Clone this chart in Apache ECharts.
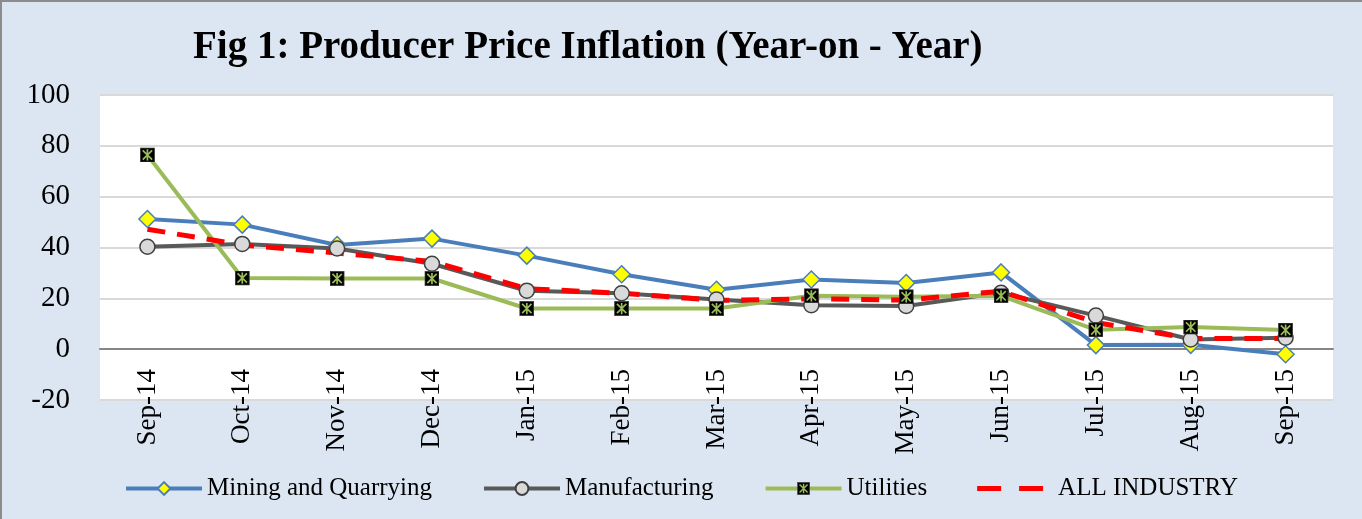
<!DOCTYPE html>
<html lang="en">
<head>
  <meta charset="UTF-8">
  <title>Producer Price Inflation</title>
  <script src="https://cdn.jsdelivr.net/npm/echarts@6/dist/echarts.min.js"></script>
  <style>
    html, body { margin: 0; padding: 0; background: #dce6f2; }
    #main { position: absolute; left: 0; top: 0; width: 1362px; height: 519px; }
  </style>
</head>
<body>
  <div id="main"></div>
  <script>
    var months = ['Sep-14', 'Oct-14', 'Nov-14', 'Dec-14', 'Jan-15', 'Feb-15', 'Mar-15',
      'Apr-15', 'May-15', 'Jun-15', 'Jul-15', 'Aug-15', 'Sep-15']
    var mining = [51.2, 49, 41, 43.5, 36.8, 29.5, 23.4, 27.4, 26, 30.2, 1.6, 1.7, -2]
    var manufacturing = [40.3, 41.4, 39.6, 33.6, 23, 22, 19.5, 17.3, 17, 22.2, 13.2, 3.8, 4.5]
    var utilities = [76.4, 28, 27.8, 27.8, 16, 16, 16, 21, 20.6, 21, 7.6, 8.7, 7.5]
    var allIndustry = [47.2, 41, 37.8, 34.5, 23.8, 22, 19.2, 19.8, 19.3, 22.8, 10.5, 4.2, 4.2]
    var yTicks = { min: -20, max: 100, step: 20 }

    var serif = "'Liberation Serif', 'Times New Roman', serif"
    // black square with green asterisk, like the Excel marker
    var utilMarker = 'image://data:image/svg+xml;utf8,' + encodeURIComponent(
      '<svg xmlns="http://www.w3.org/2000/svg" width="16" height="16">' +
      '<rect x="0.5" y="0.5" width="15" height="15" fill="#000" stroke="#404040"/>' +
      '<path d="M3 3L13 13M13 3L3 13M8 2V14" stroke="#9bbb59" stroke-width="1.8"/></svg>')
    // two short dashes for the legend (tiny corner dots keep the box 76x16)
    var dashIcon = 'path://M0,0h0.01v0.01h-0.01z M76,16h0.01v0.01h-0.01z ' +
      'M0,5.5h24v5h-24z M42,5.5h24v5h-24z'

    var myChart = echarts.init(document.getElementById('main'))
    var option = {
      backgroundColor: '#dce6f2',
      animation: false,
      title: {
        text: 'Fig 1: Producer Price Inflation (Year-on - Year)',
        left: 188,
        top: 23,
        textStyle: { fontFamily: serif, fontSize: 39, fontWeight: 'bold', color: '#000' }
      },
      graphic: [{
        type: 'rect',
        shape: { x: 1, y: 1, width: 1400, height: 600 },
        style: { fill: 'none', stroke: '#8c8c8c', lineWidth: 2 },
        silent: true
      }],
      legend: {
        bottom: 13,
        left: 'center',
        itemWidth: 76,
        itemHeight: 16,
        itemGap: 50,
        lineStyle: { width: 4 },
        textStyle: { fontFamily: serif, fontSize: 25, color: '#000' },
        data: ['Mining and Quarrying', 'Manufacturing', 'Utilities',
          { name: 'ALL INDUSTRY', icon: dashIcon }]
      },
      grid: {
        left: 100,
        right: 29,
        top: 95,
        bottom: 119,
        show: true,
        backgroundColor: '#fff',
        borderWidth: 0
      },
      xAxis: {
        type: 'category',
        data: months,
        axisTick: { show: false },
        axisLine: { onZero: true, lineStyle: { color: '#868686', width: 2 } },
        axisLabel: {
          rotate: 90,
          margin: -31,
          interval: 0,
          fontFamily: serif,
          fontSize: 27,
          color: '#000'
        }
      },
      yAxis: {
        type: 'value',
        min: yTicks.min,
        max: yTicks.max,
        interval: yTicks.step,
        axisLine: { show: false },
        axisTick: { show: false },
        axisLabel: { margin: 30, fontFamily: serif, fontSize: 29, color: '#000' },
        splitLine: { lineStyle: { color: '#d9d9d9', width: 2 } }
      },
      series: [
        {
          name: 'Mining and Quarrying',
          type: 'line',
          data: mining,
          symbol: 'diamond',
          symbolSize: 17,
          lineStyle: { color: '#4a7ebb', width: 4 },
          itemStyle: { color: '#ffff00', borderColor: '#4a7ebb', borderWidth: 1.5 }
        },
        {
          name: 'Manufacturing',
          type: 'line',
          data: manufacturing,
          symbol: 'circle',
          symbolSize: 15,
          lineStyle: { color: '#595959', width: 4 },
          itemStyle: { color: '#d9d9d9', borderColor: '#404040', borderWidth: 1.5 }
        },
        {
          name: 'Utilities',
          type: 'line',
          data: utilities,
          symbol: utilMarker,
          symbolSize: 15,
          lineStyle: { color: '#9bbb59', width: 4 },
          itemStyle: { color: '#9bbb59' }
        },
        {
          name: 'ALL INDUSTRY',
          type: 'line',
          data: allIndustry,
          symbol: 'none',
          lineStyle: { color: '#ff0000', width: 5, type: [18, 12] },
          itemStyle: { color: '#ff0000' }
        }
      ]
    }
    myChart.setOption(option)
  </script>
</body>
</html>
